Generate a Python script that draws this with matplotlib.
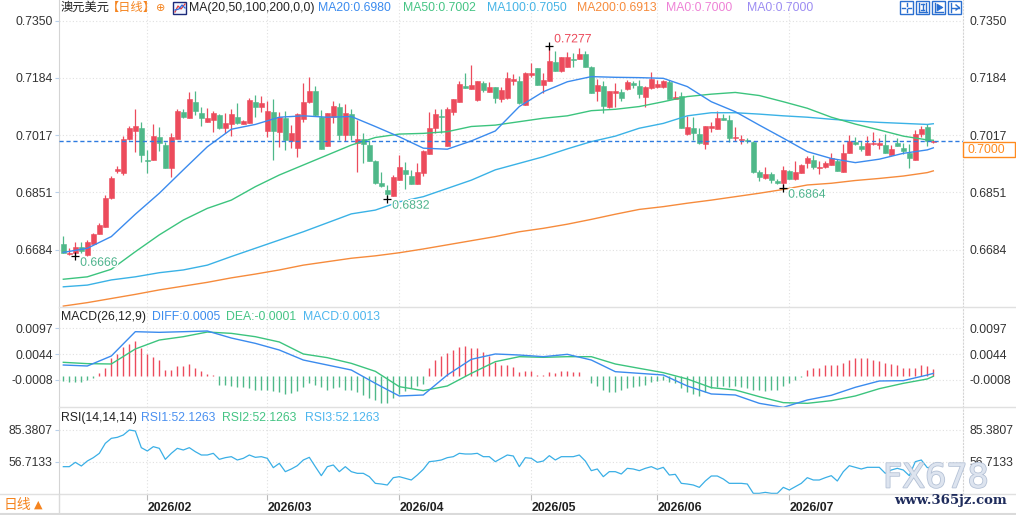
import numpy as np
import matplotlib
matplotlib.use('Agg')
import matplotlib.pyplot as plt
from matplotlib.lines import Line2D
from matplotlib.patches import Rectangle, Polygon
import matplotlib.patheffects as pe

plt.rcParams['font.family'] = ['Liberation Sans', 'Noto Sans CJK SC', 'DejaVu Sans']

# ---------------- data ----------------
opens = [0.6700, 0.6671, 0.6675, 0.6691, 0.6668, 0.6700, 0.6730, 0.6751, 0.6833, 0.6914,
         0.6906, 0.7007, 0.7030, 0.7038, 0.6945, 0.6945, 0.7011, 0.6988, 0.6922, 0.7007,
         0.7084, 0.7068, 0.7114, 0.7082, 0.7055, 0.7062, 0.7076, 0.7038, 0.7048, 0.7069,
         0.7050, 0.7053, 0.7114, 0.7099, 0.7030, 0.7084, 0.7027, 0.7067, 0.7000, 0.6980,
         0.7065, 0.7113, 0.7145, 0.7069, 0.6986, 0.7069, 0.7099, 0.7018, 0.7078, 0.6995,
         0.7006, 0.6988, 0.6943, 0.6878, 0.6857, 0.6841, 0.6887, 0.6916, 0.6898, 0.6876,
         0.6906, 0.6963, 0.7038, 0.7073, 0.6985, 0.7085, 0.7114, 0.7160, 0.7151, 0.7119,
         0.7169, 0.7143, 0.7156, 0.7122, 0.7124, 0.7175, 0.7175, 0.7105, 0.7191, 0.7212,
         0.7164, 0.7174, 0.7230, 0.7203, 0.7215, 0.7239, 0.7238, 0.7253, 0.7216, 0.7146,
         0.7160, 0.7098, 0.7140, 0.7142, 0.7150, 0.7168, 0.7161, 0.7129, 0.7153, 0.7156,
         0.7156, 0.7172, 0.7122, 0.7131, 0.7019, 0.7037, 0.7019, 0.6990, 0.7039, 0.7036,
         0.7066, 0.7060, 0.7008, 0.7003, 0.7003, 0.6998, 0.6909, 0.6893, 0.6904, 0.6884,
         0.6879, 0.6912, 0.6889, 0.6908, 0.6937, 0.6944, 0.6921, 0.6923, 0.6931, 0.6942,
         0.6911, 0.6966, 0.6997, 0.6985, 0.6960, 0.6990, 0.6989, 0.6987, 0.6960, 0.6994,
         0.6979, 0.6965, 0.6946, 0.7020, 0.7040, 0.6996]
highs = [0.6724, 0.6688, 0.6706, 0.6706, 0.6712, 0.6731, 0.6762, 0.6843, 0.6898, 0.6927,
         0.7014, 0.7042, 0.7093, 0.7055, 0.6974, 0.7049, 0.7041, 0.6998, 0.7022, 0.7092,
         0.7094, 0.7143, 0.7145, 0.7099, 0.7096, 0.7087, 0.7077, 0.7080, 0.7093, 0.7109,
         0.7061, 0.7126, 0.7133, 0.7132, 0.7117, 0.7122, 0.7083, 0.7087, 0.7045, 0.7082,
         0.7169, 0.7186, 0.7160, 0.7090, 0.7082, 0.7117, 0.7109, 0.7107, 0.7092, 0.7061,
         0.7022, 0.7003, 0.6944, 0.6910, 0.6871, 0.6900, 0.6959, 0.6938, 0.6916, 0.6937,
         0.6973, 0.7085, 0.7093, 0.7093, 0.7100, 0.7123, 0.7175, 0.7197, 0.7221, 0.7175,
         0.7174, 0.7172, 0.7157, 0.7156, 0.7199, 0.7194, 0.7190, 0.7199, 0.7226, 0.7213,
         0.7198, 0.7277, 0.7260, 0.7245, 0.7259, 0.7255, 0.7269, 0.7260, 0.7217, 0.7180,
         0.7174, 0.7146, 0.7168, 0.7150, 0.7177, 0.7175, 0.7177, 0.7159, 0.7200, 0.7177,
         0.7177, 0.7177, 0.7146, 0.7141, 0.7073, 0.7071, 0.7037, 0.7044, 0.7056, 0.7086,
         0.7078, 0.7075, 0.7041, 0.7017, 0.7008, 0.7000, 0.6916, 0.6925, 0.6911, 0.6889,
         0.6927, 0.6915, 0.6942, 0.6932, 0.6957, 0.6959, 0.6943, 0.6942, 0.6966, 0.6947,
         0.6991, 0.7016, 0.7011, 0.7000, 0.7014, 0.7026, 0.7010, 0.7019, 0.6988, 0.7008,
         0.6993, 0.6992, 0.7032, 0.7043, 0.7048, 0.7003]
lows = [0.6673, 0.6668, 0.6666, 0.6675, 0.6667, 0.6699, 0.6729, 0.6750, 0.6830, 0.6906,
        0.6902, 0.7003, 0.6968, 0.6940, 0.6908, 0.6944, 0.6972, 0.6921, 0.6896, 0.7006,
        0.7068, 0.7067, 0.7075, 0.7044, 0.7054, 0.7027, 0.7034, 0.7024, 0.7014, 0.7048,
        0.7048, 0.7052, 0.7069, 0.7084, 0.7011, 0.6944, 0.6983, 0.6973, 0.6979, 0.6954,
        0.7054, 0.7110, 0.7073, 0.6977, 0.6984, 0.7051, 0.7003, 0.6999, 0.7003, 0.6911,
        0.6937, 0.6942, 0.6875, 0.6867, 0.6832, 0.6840, 0.6886, 0.6860, 0.6875, 0.6875,
        0.6899, 0.6962, 0.7022, 0.7022, 0.6984, 0.7075, 0.7113, 0.7153, 0.7150, 0.7115,
        0.7141, 0.7142, 0.7111, 0.7114, 0.7123, 0.7163, 0.7108, 0.7104, 0.7185, 0.7162,
        0.7140, 0.7173, 0.7203, 0.7199, 0.7214, 0.7216, 0.7237, 0.7215, 0.7138, 0.7117,
        0.7080, 0.7097, 0.7098, 0.7117, 0.7149, 0.7153, 0.7124, 0.7098, 0.7150, 0.7153,
        0.7153, 0.7121, 0.7121, 0.7038, 0.7018, 0.7003, 0.6992, 0.6977, 0.7027, 0.7035,
        0.7060, 0.6996, 0.7001, 0.6990, 0.6995, 0.6906, 0.6884, 0.6889, 0.6877, 0.6875,
        0.6864, 0.6888, 0.6886, 0.6907, 0.6922, 0.6918, 0.6904, 0.6922, 0.6930, 0.6912,
        0.6910, 0.6965, 0.6987, 0.6972, 0.6959, 0.6989, 0.6978, 0.6965, 0.6959, 0.6985,
        0.6962, 0.6921, 0.6945, 0.7012, 0.6985, 0.6994]
closes = [0.6675, 0.6675, 0.6691, 0.6679, 0.6706, 0.6730, 0.6755, 0.6834, 0.6893, 0.6918,
          0.7007, 0.7038, 0.7043, 0.6960, 0.6943, 0.7014, 0.6993, 0.6922, 0.7012, 0.7088,
          0.7069, 0.7122, 0.7088, 0.7067, 0.7067, 0.7081, 0.7038, 0.7051, 0.7078, 0.7053,
          0.7059, 0.7119, 0.7100, 0.7110, 0.7087, 0.7029, 0.7069, 0.7004, 0.7023, 0.7078,
          0.7113, 0.7145, 0.7074, 0.6978, 0.7080, 0.7102, 0.7018, 0.7081, 0.7018, 0.7006,
          0.6990, 0.6943, 0.6878, 0.6870, 0.6846, 0.6896, 0.6924, 0.6904, 0.6876, 0.6910,
          0.6972, 0.7038, 0.7078, 0.7069, 0.7094, 0.7122, 0.7166, 0.7154, 0.7163, 0.7174,
          0.7148, 0.7156, 0.7126, 0.7148, 0.7183, 0.7180, 0.7109, 0.7198, 0.7197, 0.7163,
          0.7177, 0.7232, 0.7204, 0.7244, 0.7244, 0.7235, 0.7254, 0.7216, 0.7140, 0.7163,
          0.7103, 0.7145, 0.7145, 0.7125, 0.7171, 0.7162, 0.7136, 0.7158, 0.7180, 0.7166,
          0.7174, 0.7122, 0.7127, 0.7039, 0.7040, 0.7023, 0.6993, 0.7043, 0.7044, 0.7066,
          0.7061, 0.7010, 0.7011, 0.7007, 0.7000, 0.6909, 0.6896, 0.6904, 0.6886, 0.6879,
          0.6915, 0.6889, 0.6910, 0.6931, 0.6950, 0.6924, 0.6925, 0.6937, 0.6949, 0.6913,
          0.6966, 0.6999, 0.6992, 0.6978, 0.6994, 0.6995, 0.6993, 0.6966, 0.6977, 0.6986,
          0.6970, 0.6950, 0.7020, 0.7035, 0.6999, 0.7000]

# moving averages read at every 4th session (+ last)
ma_idx = list(range(0, 145, 4)) + [145]
ma20 = [0.6676, 0.6688, 0.6722, 0.6787, 0.6848, 0.6916, 0.6983, 0.7034, 0.7048, 0.7069,
        0.7073, 0.7069, 0.7071, 0.7042, 0.7012, 0.6979, 0.6976, 0.7000, 0.7029, 0.7100,
        0.7143, 0.7172, 0.7187, 0.7185, 0.7184, 0.7182, 0.7158, 0.7114, 0.7085, 0.7046,
        0.7008, 0.6969, 0.6949, 0.6937, 0.6947, 0.6964, 0.6974, 0.6980]
ma50 = [0.6598, 0.6605, 0.6627, 0.6678, 0.6727, 0.6770, 0.6804, 0.6828, 0.6867, 0.6901,
        0.6930, 0.6959, 0.6988, 0.7010, 0.7020, 0.7022, 0.7027, 0.7042, 0.7046, 0.7056,
        0.7066, 0.7073, 0.7088, 0.7092, 0.7100, 0.7114, 0.7129, 0.7136, 0.7141, 0.7132,
        0.7114, 0.7095, 0.7069, 0.7049, 0.7032, 0.7014, 0.7003, 0.7002]
ma100 = [0.6576, 0.6581, 0.6596, 0.6605, 0.6617, 0.6625, 0.6639, 0.6664, 0.6688, 0.6712,
         0.6736, 0.6762, 0.6788, 0.6799, 0.6823, 0.6838, 0.6862, 0.6886, 0.6916, 0.6935,
         0.6954, 0.6977, 0.6998, 0.7014, 0.7037, 0.7051, 0.7073, 0.7082, 0.7082, 0.7078,
         0.7073, 0.7069, 0.7063, 0.7058, 0.7054, 0.7051, 0.7048, 0.7050]
ma200 = [0.6520, 0.6530, 0.6542, 0.6554, 0.6567, 0.6578, 0.6589, 0.6602, 0.6613, 0.6625,
         0.6639, 0.6649, 0.6659, 0.6666, 0.6675, 0.6686, 0.6698, 0.6710, 0.6722, 0.6736,
         0.6746, 0.6758, 0.6772, 0.6787, 0.6801, 0.6809, 0.6819, 0.6828, 0.6838, 0.6848,
         0.6859, 0.6872, 0.6877, 0.6885, 0.6891, 0.6898, 0.6908, 0.6913]

macd_diff = [0.00221, 0.00201, 0.00405, 0.00901, 0.00888, 0.00901, 0.00915, 0.00772, 0.00663, 0.00527,
             0.00323, 0.00221, 0.00119, -0.00153, -0.00411, -0.00391, 0.00017, 0.00337, 0.00446, 0.00425,
             0.00391, 0.00439, 0.00323, 0.00085, 0.00051, 0.00017, -0.00207, -0.00370, -0.00391, -0.00561,
             -0.00643, -0.00493, -0.00397, -0.00234, -0.00105, -0.00098, 0.00017, 0.0005]
macd_dea = [0.00276, 0.00249, 0.00242, 0.00548, 0.00731, 0.00799, 0.00894, 0.00867, 0.00799, 0.00691,
            0.00446, 0.00371, 0.00255, 0.00092, -0.00221, -0.00302, -0.00207, 0.00051, 0.00289, 0.00391,
            0.00378, 0.00391, 0.00391, 0.00242, 0.00153, 0.00065, -0.00064, -0.00241, -0.00289, -0.00425,
            -0.00547, -0.00561, -0.00507, -0.00411, -0.00262, -0.00153, -0.00064, -0.0001]
macd_hist = [-0.00102, -0.00116, -0.00129, -0.00122, -0.00088, -0.00048, 0.00048, 0.00170, 0.00354, 0.00442,
             0.00592, 0.00660, 0.00714, 0.00578, 0.00442, 0.00388, 0.00320, 0.00129, 0.00116, 0.00197,
             0.00197, 0.00238, 0.00170, 0.00102, 0.00034, 0.00014, -0.00190, -0.00190, -0.00211, -0.00224,
             -0.00238, -0.00258, -0.00279, -0.00279, -0.00292, -0.00306, -0.00326, -0.00374, -0.00360, -0.00306,
             -0.00224, -0.00156, -0.00190, -0.00238, -0.00292, -0.00258, -0.00238, -0.00279, -0.00279, -0.00326,
             -0.00394, -0.00462, -0.00496, -0.00551, -0.00551, -0.00462, -0.00374, -0.00306, -0.00258, -0.00211,
             -0.00170, 0.00150, 0.00320, 0.00401, 0.00469, 0.00537, 0.00592, 0.00605, 0.00578, 0.00558,
             0.00490, 0.00401, 0.00286, 0.00218, 0.00218, 0.00184, 0.00082, 0.00102, 0.00102, 0.00014,
             0.00020, 0.00082, 0.00061, 0.00102, 0.00102, 0.00082, 0.00075, 0.00003, -0.00143, -0.00211,
             -0.00292, -0.00326, -0.00326, -0.00292, -0.00258, -0.00224, -0.00211, -0.00190, -0.00122, -0.00102,
             -0.00088, -0.00122, -0.00156, -0.00258, -0.00326, -0.00374, -0.00415, -0.00326, -0.00258, -0.00224,
             -0.00211, -0.00224, -0.00211, -0.00238, -0.00258, -0.00279, -0.00292, -0.00306, -0.00292, -0.00292,
             -0.00211, -0.00143, -0.00088, -0.00020, 0.00129, 0.00150, 0.00170, 0.00218, 0.00218, 0.00218,
             0.00265, 0.00333, 0.00354, 0.00354, 0.00354, 0.00333, 0.00306, 0.00252, 0.00238, 0.00218,
             0.00170, 0.00150, 0.00170, 0.00218, 0.00197, 0.00130]

rsi = [52.22, 52.22, 56.14, 52.82, 57.34, 60.36, 64.28, 73.32, 77.84, 78.75,
       80.86, 85.38, 84.48, 69.40, 66.39, 70.31, 68.80, 58.85, 64.28, 68.80,
       67.29, 69.40, 65.78, 62.77, 62.77, 64.28, 58.85, 60.36, 61.26, 58.25,
       59.76, 62.77, 60.66, 61.26, 59.76, 51.31, 55.23, 47.70, 50.11, 53.12,
       58.25, 60.66, 52.22, 44.08, 52.22, 53.73, 47.70, 52.22, 47.70, 46.19,
       46.19, 43.17, 37.14, 36.54, 35.63, 42.27, 43.17, 41.67, 40.16, 44.68,
       49.81, 56.74, 57.34, 58.25, 60.36, 61.26, 64.28, 63.67, 63.67, 64.28,
       61.26, 61.26, 56.74, 59.76, 62.77, 61.87, 52.22, 60.36, 59.76, 56.14,
       57.34, 62.17, 58.25, 61.26, 61.26, 61.26, 62.77, 57.34, 48.60, 50.11,
       43.17, 47.70, 47.70, 45.59, 50.71, 50.11, 48.60, 50.71, 52.22, 49.81,
       51.62, 44.68, 45.28, 37.14, 36.54, 35.63, 33.52, 39.25, 43.78, 43.78,
       41.06, 37.14, 37.14, 37.14, 36.54, 28.09, 28.09, 29.00, 28.09, 28.09,
       33.52, 31.11, 34.13, 37.14, 42.27, 40.16, 40.16, 42.27, 44.08, 39.25,
       47.70, 53.12, 51.62, 50.11, 51.62, 51.62, 51.62, 46.19, 49.20, 50.71,
       49.20, 44.08, 56.74, 58.25, 51.31, 52.13]
rsi_last = 52.1263

month_labels = ['2026/02', '2026/03', '2026/04', '2026/05', '2026/06', '2026/07']
month_start = [14, 34, 56, 78, 99, 121]
price_ticks = [0.7350, 0.7184, 0.7017, 0.6851, 0.6684]
macd_ticks = [0.0097, 0.0044, -0.0008]
macd_tick_labels = ['0.0097', '0.0044', '-0.0008']
rsi_ticks = [85.3807, 56.7133]
marked_idx = [81, 2, 54, 120]
marked_kind = ['high', 'low', 'low', 'low']

# ---------------- style ----------------
UP = '#EC4B5C'
DN = '#4FB889'
C_MA20 = '#3B8BEE'
C_MA50 = '#3CC47E'
C_MA100 = '#3AB2E6'
C_MA200 = '#F68B3C'
GRID = '#E0E0E0'
ORANGE = '#F5841F'

W, H = 1016, 515
fig = plt.figure(figsize=(W / 100, H / 100), dpi=100)
fig.patch.set_facecolor('white')


def fx(x):
    return x / W


def fy(y):
    return 1 - y / H


L, R = 59, 963
ax = fig.add_axes([fx(L), fy(307), (R - L) / W, 307 / H])
axm = fig.add_axes([fx(L), fy(407), (R - L) / W, 100 / H])
axr = fig.add_axes([fx(L), fy(494), (R - L) / W, 87 / H])

for a in (ax, axm, axr):
    a.set_xlim(-0.72, 149.95)
    a.set_facecolor('none')
    for s in ('top', 'bottom'):
        a.spines[s].set_visible(False)
    a.spines['left'].set_color('#D4D4D4')
    a.spines['right'].set_color('#D4D4D4')
    a.spines['right'].set_linestyle((0, (1, 2)))
    a.tick_params(axis='y', which='major', length=3, color='#B9D1EC', labelsize=8.8,
                  labelcolor='#333333', pad=1.5, labelright=True, right=False)
    for m in month_start:
        a.axvline(m, color=GRID, lw=0.8, ls=(0, (1, 2)), zorder=0)

# ---- main price panel ----
o = np.array(opens); h = np.array(highs); l = np.array(lows); c = np.array(closes)
idx = np.arange(len(c))
cols = np.where(c >= o, UP, DN)
ax.vlines(idx, l, h, colors=cols, lw=0.9, zorder=3)
body_bot = np.minimum(o, c)
body_h = np.maximum(np.abs(c - o), 0.00003)
ax.bar(idx, body_h, bottom=body_bot, width=0.78, color=cols, edgecolor=cols,
       linewidth=0.4, zorder=3)

ax.plot(ma_idx, ma200, color=C_MA200, lw=1.0, zorder=4)
ax.plot(ma_idx, ma100, color=C_MA100, lw=1.0, zorder=4)
ax.plot(ma_idx, ma50, color=C_MA50, lw=1.0, zorder=4)
ax.plot(ma_idx, ma20, color=C_MA20, lw=1.0, zorder=4)

ax.set_ylim(0.65173, 0.74097)
ax.set_yticks(price_ticks)
ax.set_yticklabels([f'{t:.4f}' for t in price_ticks])
for t in price_ticks:
    ax.axhline(t, color=GRID, lw=0.8, ls=(0, (1, 2)), zorder=0)
ax.tick_params(axis='x', bottom=False, labelbottom=False)

last = closes[-1]
ax.axhline(last, color='#2E7BE0', lw=1.0, ls=(0, (3, 2)), zorder=5)
fig.add_artist(Rectangle((fx(963), fy(157)), 52 / W, 15 / H, transform=fig.transFigure,
                         fc='none', ec='#FF8A1E', lw=1.0))
ax.annotate(f'{last:.4f}', xy=(1, last), xycoords=('axes fraction', 'data'),
            xytext=(3.2, -6.2), textcoords='offset points', ha='left', va='center',
            fontsize=8.8, color='#FF8A1E', annotation_clip=False, zorder=10)

for i, kind in zip(marked_idx, marked_kind):
    if kind == 'high':
        v = highs[i]; col = '#EC4B5C'; off = (3.5, 4.5)
    else:
        v = lows[i]; col = '#4DB38C'; off = (3.5, -5.0)
    ax.plot([i], [v], marker='+', color='black', ms=6, mew=0.9, zorder=6)
    ax.annotate(f'{v:.4f}', xy=(i, v), xytext=off, textcoords='offset points',
                ha='left', va='center', fontsize=8.8, color=col, zorder=6,
                path_effects=[pe.withStroke(linewidth=2, foreground='white')])

# ---- MACD panel ----
hist = np.array(macd_hist)
axm.vlines(idx, 0, hist, colors=np.where(hist >= 0, UP, DN), lw=1.0, zorder=2)
axm.plot(ma_idx, macd_dea, color=C_MA50, lw=1.0, zorder=3)
axm.plot(ma_idx, macd_diff, color=C_MA20, lw=1.0, zorder=3)
axm.set_ylim(-0.00636, 0.01405)
axm.set_yticks(macd_ticks)
axm.set_yticklabels(macd_tick_labels)
for t in macd_ticks:
    axm.axhline(t, color=GRID, lw=0.8, ls=(0, (1, 2)), zorder=0)
axm.tick_params(axis='x', bottom=False, labelbottom=False)

# ---- RSI panel ----
axr.plot(idx, rsi, color='#3AAFE6', lw=0.9, zorder=3)
axr.set_ylim(27.50, 106.18)
axr.set_yticks(rsi_ticks)
axr.set_yticklabels([f'{t:.4f}' for t in rsi_ticks])
for t in rsi_ticks:
    axr.axhline(t, color=GRID, lw=0.8, ls=(0, (1, 2)), zorder=0)
axr.set_xticks(month_start)
axr.set_xticklabels(month_labels, fontweight='bold')
axr.tick_params(axis='x', length=4, color='#BBBBBB', labelsize=8.8, labelcolor='#222222', pad=2)
for lb in axr.get_xticklabels():
    lb.set_ha('left')

# ---- separators / frame ----
for yy, x0 in ((307, 59), (407, 59), (494, 0)):
    fig.add_artist(Line2D([fx(x0), 1], [fy(yy), fy(yy)], color='#E0E0E0', lw=1.0))
fig.add_artist(Line2D([0, 1], [fy(513.5), fy(513.5)], color='#DADADA', lw=1.5))
fig.add_artist(Line2D([fx(58.5), fx(58.5)], [fy(494), fy(515)], color='#DADADA', lw=1.0))

# ---- header texts ----
FS = 8.8
yh = fy(8)
fig.text(fx(61), yh, '澳元美元', fontsize=FS, va='center', color='#222222')
fig.text(fx(107), yh, '【日线】', fontsize=FS, va='center', color=ORANGE)
fig.text(fx(156), yh, '⊕', fontsize=8, va='center', color=ORANGE, family='DejaVu Sans')
fig.add_artist(Rectangle((fx(173), fy(14)), 13 / W, 12 / H, transform=fig.transFigure,
                         fc='#F2F5FF', ec='#1B2A7A', lw=1.0))
fig.add_artist(Line2D([fx(175), fx(178), fx(181), fx(185)], [fy(12), fy(6), fy(9), fy(4)],
                      color='#E03C3C', lw=0.9))
fig.add_artist(Line2D([fx(175), fx(179), fx(182), fx(185)], [fy(10), fy(9), fy(5), fy(8)],
                      color='#2E6BE0', lw=0.9))
header = [('MA(20,50,100,200,0,0)', '#222222', 189),
          (f'MA20:{ma20[-1]:.4f}', '#3B8BEE', 318),
          (f'MA50:{ma50[-1]:.4f}', '#45C484', 403),
          (f'MA100:{ma100[-1]:.4f}', '#45B4E6', 487),
          (f'MA200:{ma200[-1]:.4f}', '#F68B3C', 577),
          ('MA0:0.7000', '#EE82D6', 666),
          ('MA0:0.7000', '#9C8CF2', 747)]
for txt, col, x in header:
    fig.text(fx(x), yh, txt, fontsize=FS, va='center', color=col)

# top-right tool icons
IC = '#2A6FD0'
for k, x0 in enumerate([900, 916, 932, 948]):
    fig.add_artist(Rectangle((fx(x0), fy(14)), 13 / W, 13 / H, transform=fig.transFigure,
                             fill=False, ec=IC, lw=1.0))
    if k == 0:
        segs = [((x0 + 6.5, 3), (x0 + 6.5, 6)), ((x0 + 6.5, 9), (x0 + 6.5, 12)),
                ((x0 + 2, 7.5), (x0 + 5, 7.5)), ((x0 + 8, 7.5), (x0 + 11, 7.5))]
    elif k == 1:
        segs = [((x0 + 3, 3), (x0 + 3, 12)), ((x0 + 10, 3), (x0 + 10, 12)),
                ((x0 + 3, 12), (x0 + 11, 12)), ((x0 + 6.5, 4), (x0 + 6.5, 10)),
                ((x0 + 5, 4), (x0 + 8, 4)), ((x0 + 5, 10), (x0 + 8, 10))]
    elif k == 2:
        segs = [((x0 + 3, 3), (x0 + 3, 12)), ((x0 + 3, 12), (x0 + 11, 12))]
        fig.add_artist(Polygon([(fx(x0 + 5), fy(4)), (fx(x0 + 11), fy(7.5)), (fx(x0 + 5), fy(11))],
                               closed=True, transform=fig.transFigure, fc=IC, ec=IC, lw=0.5))
    else:
        segs = [((x0 + 3, 3), (x0 + 3, 12)), ((x0 + 4, 7.5), (x0 + 11, 7.5)),
                ((x0 + 8, 5), (x0 + 11, 7.5)), ((x0 + 8, 10), (x0 + 11, 7.5))]
    for (xa, ya), (xb, yb) in segs:
        fig.add_artist(Line2D([fx(xa), fx(xb)], [fy(ya), fy(yb)], color=IC, lw=1.0))

# panel titles
fig.text(fx(61), fy(317), 'MACD(26,12,9)', fontsize=FS, va='center', color='#222222')
fig.text(fx(152), fy(317), f'DIFF:{macd_diff[-1]:.4f}', fontsize=FS, va='center', color='#3B8BEE')
fig.text(fx(226), fy(317), f'DEA:{macd_dea[-1]:.4f}', fontsize=FS, va='center', color='#45C484')
fig.text(fx(303), fy(317), f'MACD:{macd_hist[-1]:.4f}', fontsize=FS, va='center', color='#4DB6EE')

fig.text(fx(61), fy(418), 'RSI(14,14,14)', fontsize=FS, va='center', color='#222222')
fig.text(fx(141), fy(418), f'RSI1:{rsi_last:.4f}', fontsize=FS, va='center', color='#4A90F0')
fig.text(fx(222), fy(418), f'RSI2:{rsi_last:.4f}', fontsize=FS, va='center', color='#45C484')
fig.text(fx(305), fy(418), f'RSI3:{rsi_last:.4f}', fontsize=FS, va='center', color='#4DB6EE')

# bottom-left period switch
fig.text(fx(4), fy(505), '日线', fontsize=10, va='center', color=ORANGE)
fig.text(fx(34), fy(505), '▲', fontsize=8, va='center', color=ORANGE, family='DejaVu Sans')

# watermark
fig.text(fx(936), fy(478), 'FX678', fontsize=24, ha='center', va='center', color='#DDE4EF',
         family='DejaVu Sans', path_effects=[pe.withStroke(linewidth=1.2, foreground='#B5C2D6')])
fig.text(fx(950), fy(500.5), 'www.365jz.com', fontsize=9.5, ha='center', va='center',
         color='#1F2C5C', family='DejaVu Serif', fontweight='bold')

fig.savefig('out.png', dpi=100, facecolor='white')
